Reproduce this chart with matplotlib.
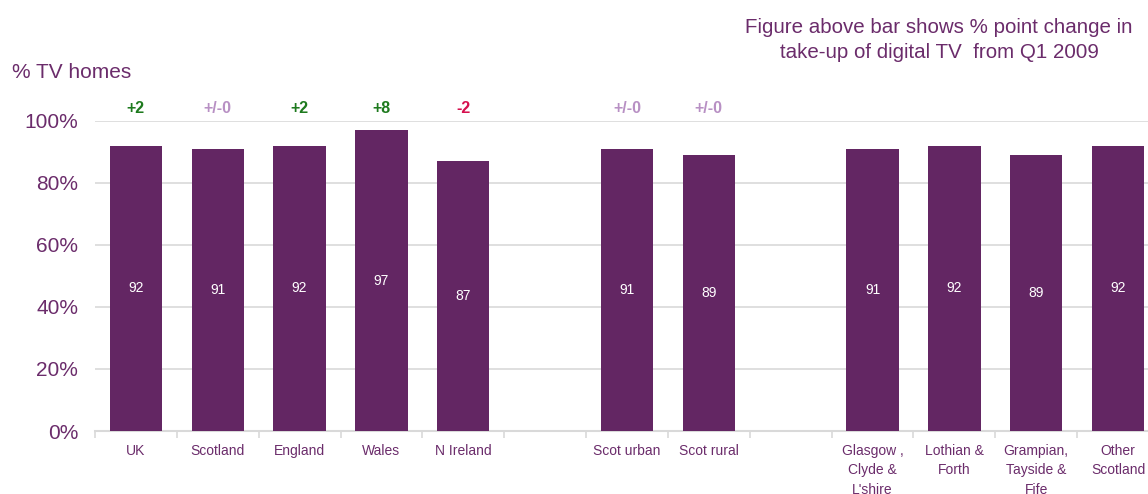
import matplotlib
matplotlib.use("Agg")
import matplotlib.pyplot as plt
from matplotlib.ticker import FixedLocator, PercentFormatter

plt.rcParams['font.family'] = ['Liberation Sans', 'DejaVu Sans']

# Take-up of digital TV (% of TV homes) by area
nations = ["UK", "Scotland", "England", "Wales", "N Ireland"]
nation_values = [92, 91, 92, 97, 87]
nation_change = ["+2", "+/-0", "+2", "+8", "-2"]

urban_rural = ["Scot urban", "Scot rural"]
urban_rural_values = [91, 89]
urban_rural_change = ["+/-0", "+/-0"]

regions = ["Glasgow ,\nClyde &\nL'shire", "Lothian &\nForth",
           "Grampian,\nTayside &\nFife", "Other\nScotland"]
region_values = [91, 92, 89, 92]
region_change = ["", "", "", ""]

groups = [
    (nations, nation_values, nation_change),
    (urban_rural, urban_rural_values, urban_rural_change),
    (regions, region_values, region_change),
]

BAR = "#632663"
TEXT = "#6b2c6b"
GRID = "#d9d9d9"
change_colours = {"+": "#1e7a1e", "-": "#d6104e", "0": "#b890c4"}

def change_colour(s):
    if s.startswith("+/-"):
        return change_colours["0"]
    return change_colours[s[0]]

fig = plt.figure(figsize=(11.48, 4.94), dpi=100)
ax = fig.add_axes([95 / 1148, 63 / 494, (1159 - 95) / 1148, (431 - 121) / 494])

# lay out groups with one empty slot between them
xs, labels, vals, changes = [], [], [], []
pos = 0
for i, (cats, v, ch) in enumerate(groups):
    if i > 0:
        pos += 1
    for c, val, cg in zip(cats, v, ch):
        xs.append(pos)
        labels.append(c)
        vals.append(val)
        changes.append(cg)
        pos += 1
n_slots = pos

ax.bar(xs, vals, width=0.64, color=BAR, zorder=3)
for x, v, cg in zip(xs, vals, changes):
    ax.text(x, v / 2, f"{v}", color="white", ha="center", va="center",
            fontsize=10, zorder=4)
    if cg:
        ax.text(x, 104, cg, color=change_colour(cg), ha="center", va="center",
                fontsize=11.5, fontweight="bold", clip_on=False)

ax.set_xlim(-0.5, n_slots - 0.5)
ax.set_ylim(0, 100)
ax.set_yticks(range(0, 101, 20))
ax.yaxis.set_major_formatter(PercentFormatter(decimals=0))
ax.tick_params(axis="y", length=0, labelsize=15, labelcolor=TEXT, pad=12)
ax.grid(axis="y", color=GRID, linewidth=1.2, zorder=0)

ax.set_xticks(xs)
ax.set_xticklabels(labels, fontsize=10, color=TEXT, linespacing=1.5, va="top")
ax.tick_params(axis="x", which="major", length=0, pad=9)
ax.xaxis.set_minor_locator(FixedLocator([i - 0.5 for i in range(n_slots + 1)]))
ax.tick_params(axis="x", which="minor", length=5, width=1.2, color=GRID, direction="out")

for side in ("top", "right", "left"):
    ax.spines[side].set_visible(False)
ax.spines["bottom"].set_color(GRID)
ax.spines["bottom"].set_linewidth(1.5)

fig.text(12 / 1148, 1 - 73 / 494, "% TV homes", fontsize=15, color=TEXT,
         ha="left", va="center")
fig.text(939 / 1148, 1 - 40 / 494,
         "Figure above bar shows % point change in\ntake-up of digital TV  from Q1 2009",
         fontsize=14.8, color=TEXT, ha="center", va="center", linespacing=1.45)

fig.savefig("out.png", dpi=100)
